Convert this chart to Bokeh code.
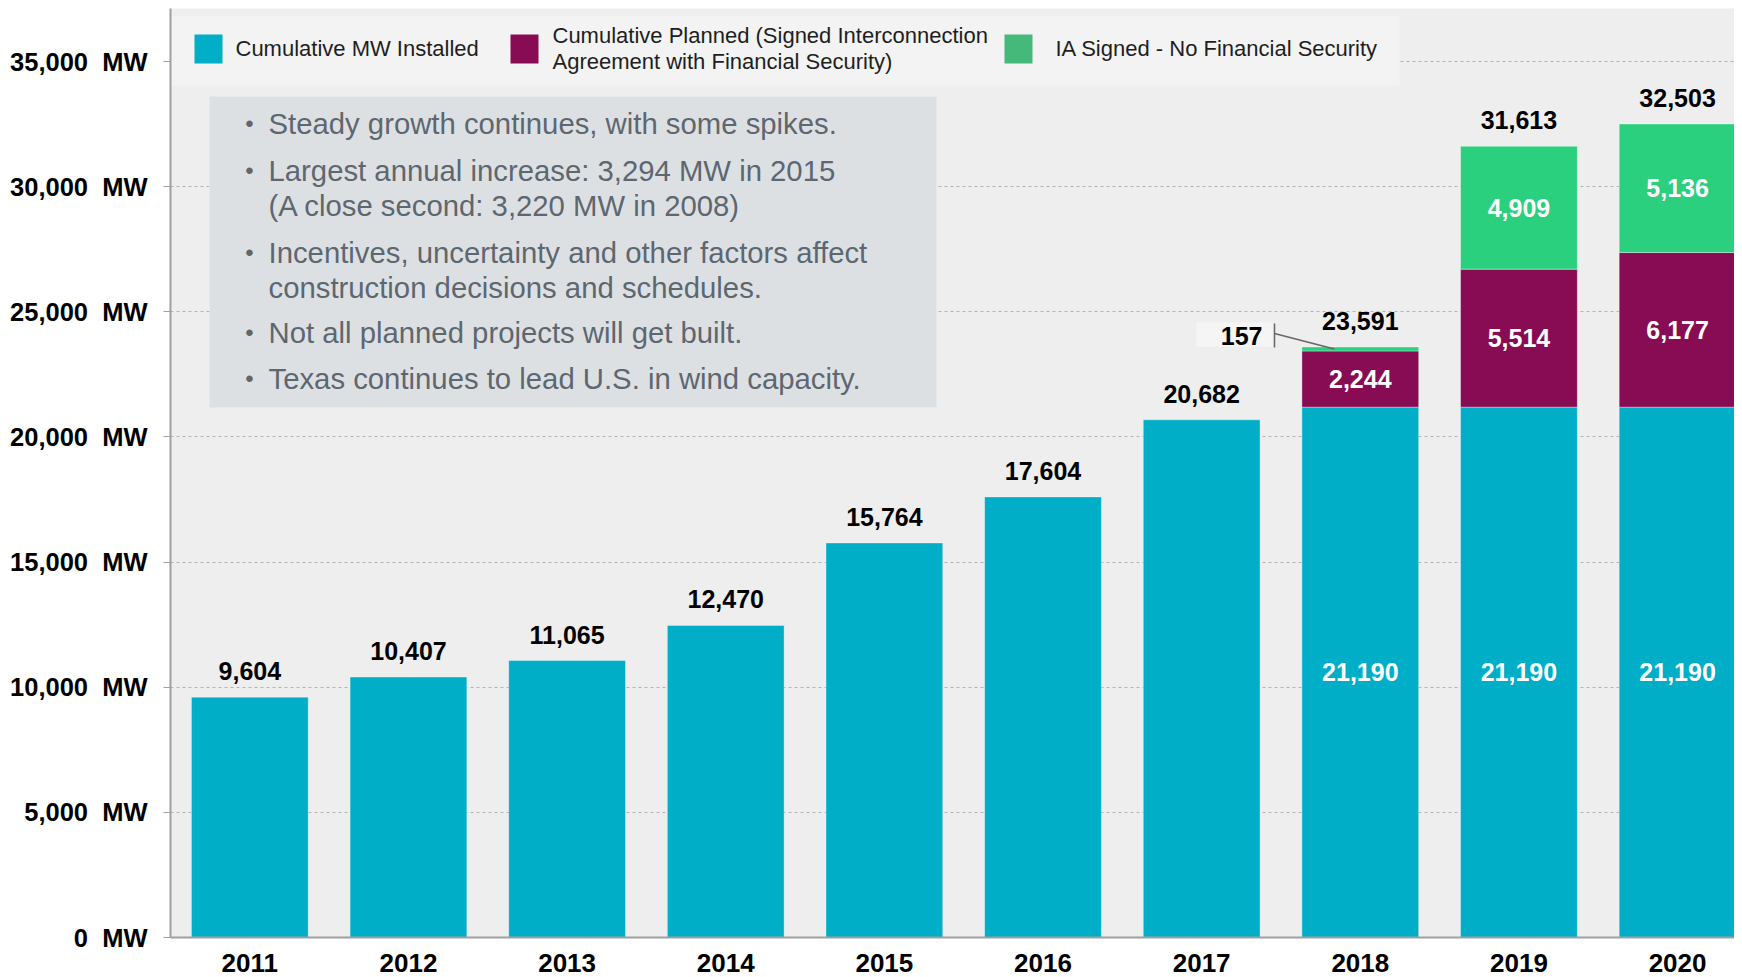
import numpy as np
from bokeh.plotting import figure
from bokeh.models import Range1d, FixedTicker
from bokeh.core.properties import value
from bokeh.embed import file_html
from bokeh.resources import INLINE

# ---------------- data ----------------
years = ["2011", "2012", "2013", "2014", "2015", "2016", "2017", "2018", "2019", "2020"]
installed = [9604, 10407, 11065, 12470, 15764, 17604, 20682, 21190, 21190, 21190]
planned = [0, 0, 0, 0, 0, 0, 0, 2244, 5514, 6177]
ia_signed = [0, 0, 0, 0, 0, 0, 0, 157, 4909, 5136]
y_ticks = [0, 5000, 10000, 15000, 20000, 25000, 30000, 35000]
legend_labels = ["Cumulative MW Installed",
                 "Cumulative Planned (Signed Interconnection",
                 "Agreement with Financial Security)",
                 "IA Signed - No Financial Security"]
bullet_texts = ["Steady growth continues, with some spikes.",
                "Largest annual increase: 3,294 MW in 2015",
                "(A close second: 3,220 MW in 2008)",
                "Incentives, uncertainty and other factors affect",
                "construction decisions and schedules.",
                "Not all planned projects will get built.",
                "Texas continues to lead U.S. in wind capacity."]
bullet_marks = [True, True, False, True, False, True, True]

# ---------------- styling / layout ----------------
C_INST = "#00aec7"
C_PLAN = "#870c53"
C_IA = "#2bd07e"
C_IA_LEG = "#45b97a"
FONT = value("Liberation Sans")
VAL_SIZE = "25px"

FRAME_W, FRAME_H = 1564, 929
LEFT_PX, BOTTOM_PX = 170, 937          # page coordinates of frame
SP = 158.64                            # px per category
YMAX = 35000 * FRAME_H / 876.0
X_END = -0.5 + FRAME_W / SP


def xd(px):
    return -0.5 + (px - LEFT_PX) / SP


def yd(py):
    return (BOTTOM_PX - py) * YMAX / FRAME_H


n = len(years)
xs = np.arange(n)
inst = np.array(installed, dtype=float)
plan = np.array(planned, dtype=float)
ia = np.array(ia_signed, dtype=float)
tot = inst + plan + ia

p = figure(frame_width=FRAME_W, frame_height=FRAME_H,
           x_range=Range1d(-0.5, X_END), y_range=Range1d(0, YMAX),
           output_backend="svg", toolbar_location=None,
           min_border_left=170, min_border_right=0, min_border_top=8, min_border_bottom=40,
           background_fill_color="#eeeeee", border_fill_color="white",
           outline_line_color=None)

# axes
p.xaxis.ticker = FixedTicker(ticks=list(xs))
p.xaxis.major_label_overrides = {int(i): y for i, y in zip(xs, years)}
p.xaxis.major_tick_line_color = None
p.xaxis.minor_tick_line_color = None
p.xaxis.axis_line_color = "#a0a0a0"
p.xaxis.axis_line_width = 2
p.xaxis.major_label_standoff = 10
p.xaxis.major_label_text_font = "Liberation Sans"
p.xaxis.major_label_text_font_style = "bold"
p.xaxis.major_label_text_font_size = "26px"
p.xaxis.major_label_text_color = "black"

p.yaxis.ticker = FixedTicker(ticks=y_ticks)
p.yaxis.major_label_overrides = {t: f"{t:,}\u00a0\u00a0MW" for t in y_ticks}
p.yaxis.major_tick_out = 7
p.yaxis.major_tick_in = 0
p.yaxis.major_tick_line_color = "#a0a0a0"
p.yaxis.minor_tick_line_color = None
p.yaxis.axis_line_color = "#a0a0a0"
p.yaxis.axis_line_width = 2
p.yaxis.major_label_standoff = 16
p.yaxis.major_label_text_font = "Liberation Sans"
p.yaxis.major_label_text_font_style = "bold"
p.yaxis.major_label_text_font_size = "25.5px"
p.yaxis.major_label_text_color = "black"

p.xgrid.grid_line_color = None
p.ygrid.grid_line_color = "#b4b4b4"
p.ygrid.grid_line_dash = "3 3"
p.ygrid.grid_line_width = 1

# bars
BW = 0.736
p.vbar(x=xs, bottom=0, top=inst, width=BW, fill_color=C_INST,
       line_color="white", line_alpha=0.35, line_width=1)
m = plan > 0
p.vbar(x=xs[m], bottom=inst[m], top=(inst + plan)[m], width=BW, fill_color=C_PLAN,
       line_color="white", line_alpha=0.35, line_width=1)
m2 = ia > 0
p.vbar(x=xs[m2], bottom=(inst + plan)[m2], top=tot[m2], width=BW, fill_color=C_IA,
       line_color="white", line_alpha=0.35, line_width=1)

# total labels
p.text(x=xs, y=tot, text=[f"{int(v):,}" for v in tot], y_offset=-26,
       text_align="center", text_baseline="middle", text_font=FONT,
       text_font_style="bold", text_font_size=VAL_SIZE, text_color="black")

# inner labels
p.text(x=xs[m], y=(inst / 2)[m], text=[f"{int(v):,}" for v in inst[m]],
       text_align="center", text_baseline="middle", text_font=FONT,
       text_font_style="bold", text_font_size=VAL_SIZE, text_color="white")
p.text(x=xs[m], y=(inst + plan / 2)[m], text=[f"{int(v):,}" for v in plan[m]],
       text_align="center", text_baseline="middle", text_font=FONT,
       text_font_style="bold", text_font_size=VAL_SIZE, text_color="white")
big = ia > 1000
p.text(x=xs[big], y=(inst + plan + ia / 2)[big], text=[f"{int(v):,}" for v in ia[big]],
       text_align="center", text_baseline="middle", text_font=FONT,
       text_font_style="bold", text_font_size=VAL_SIZE, text_color="white")

# small IA callout (2018)
small = np.where((ia > 0) & (ia <= 1000))[0]
for i in small:
    tip_x = i - 26 / SP
    tip_y = inst[i] + plan[i] + ia[i] / 2
    p.quad(left=[xd(1196)], right=[xd(1272)], bottom=[yd(346)], top=[yd(322)],
           fill_color="#f5f5f5", line_color=None)
    p.text(x=[xd(1262)], y=[yd(335)], text=[f"{int(ia[i]):,}"], text_align="right",
           text_baseline="middle", text_font=FONT, text_font_style="bold",
           text_font_size=VAL_SIZE, text_color="black")
    p.segment(x0=[xd(1274)], y0=[yd(323)], x1=[xd(1274)], y1=[yd(347)],
              line_color="#666666", line_width=1.5)
    p.segment(x0=[xd(1274)], y0=[yd(333)], x1=[tip_x], y1=[tip_y],
              line_color="#666666", line_width=1.5)

# legend box
p.quad(left=[xd(168)], right=[xd(1399)], bottom=[yd(85)], top=[yd(16)],
       fill_color="#f3f3f3", line_color=None)
sw_left = [194, 510, 1004]
sw_cols = [C_INST, C_PLAN, C_IA_LEG]
p.quad(left=[xd(v) for v in sw_left], right=[xd(v + 28) for v in sw_left],
       bottom=[yd(63)] * 3, top=[yd(34)] * 3, fill_color=sw_cols, line_color=None)
p.text(x=[xd(235), xd(552), xd(552), xd(1055)],
       y=[yd(48), yd(35), yd(61), yd(48)], text=legend_labels,
       text_align="left", text_baseline="middle", text_font=FONT,
       text_font_size="22px", text_color="#1e1e1e")

# bullet box
p.quad(left=[xd(209)], right=[xd(936)], bottom=[yd(407)], top=[yd(96)],
       fill_color="#dde0e3", line_color=None)
line_px = [123, 170, 205, 252, 287, 332, 378]
p.text(x=[xd(268)] * len(bullet_texts), y=[yd(v) for v in line_px], text=bullet_texts,
       text_align="left", text_baseline="middle", text_font=FONT,
       text_font_size="29.3px", text_color="#5d6770")
bx = [xd(249)] * sum(bullet_marks)
by = [yd(v) for v, b in zip(line_px, bullet_marks) if b]
p.text(x=bx, y=by, text=["\u2022"] * len(by), text_align="center",
       text_baseline="middle", text_font=FONT, text_font_size="24px",
       text_color="#5d6770")

open("out.html", "w").write(file_html(p, INLINE))
